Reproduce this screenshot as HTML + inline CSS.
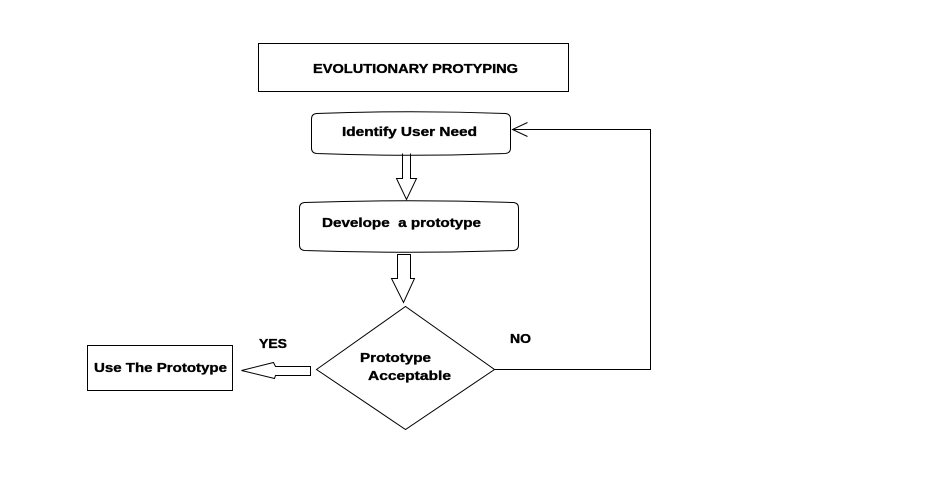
<!DOCTYPE html>
<html><head><style>
body{margin:0;background:#fff;}
svg{display:block}
text{font-family:"Liberation Sans",Arial,sans-serif;font-weight:bold;font-size:13px;fill:#000;stroke:#000;stroke-width:0.35}
</style></head><body>
<svg width="935" height="482" viewBox="0 0 935 482">
<g fill="none" stroke="#000" stroke-width="1">
<rect x="258.5" y="43.5" width="310" height="48"/>
<path d="M316.5,113.5 Q411,110 505.5,113.5 Q510.5,114 510.5,119 L510.5,148 Q510.5,153 505.5,153.5 Q411,157 316.5,153.5 Q311.5,153 311.5,148 L311.5,119 Q311.5,114 316.5,113.5Z"/>
<path d="M304.5,202.5 Q409,199 513.5,202.5 Q518.5,203 518.5,208 L518.5,245 Q518.5,250 513.5,250.5 Q409,254 304.5,250.5 Q299.5,250 299.5,245 L299.5,208 Q299.5,203 304.5,202.5Z"/>
<path d="M402.5,153.5 L402.5,178.5 L396.5,178.5 L406.5,199.5 L416.5,178.5 L410.5,178.5 L410.5,153.5"/>
<path d="M397.5,254.5 L410.5,254.5 L410.5,278.5 L414.5,278.5 L403.5,302.5 L391.5,278.5 L397.5,278.5Z"/>
<path d="M316.5,369.5 L405.5,306.5 L494.5,369.5 L405.5,429.5Z"/>
<rect x="87.5" y="345.5" width="145" height="45"/>
<path d="M310.5,366.5 L275.5,366.5 L273.5,362.5 L241.5,370.5 L274.5,378.5 L275.5,375.5 L310.5,375.5Z"/>
<path d="M494.5,369.5 L650.5,369.5 L650.5,129.5 L512.5,129.5"/>
<path d="M527.5,122.5 L512.5,129.5 L527.5,136.5"/>
</g>
<text x="313" y="73" textLength="205" lengthAdjust="spacingAndGlyphs">EVOLUTIONARY PROTYPING</text>
<text x="342" y="136" textLength="135" lengthAdjust="spacingAndGlyphs">Identify User Need</text>
<text x="322" y="227" textLength="159" lengthAdjust="spacingAndGlyphs" xml:space="preserve">Develope  a prototype</text>
<text x="360" y="362" textLength="71" lengthAdjust="spacingAndGlyphs">Prototype</text>
<text x="368" y="380" textLength="83" lengthAdjust="spacingAndGlyphs">Acceptable</text>
<text x="94" y="372" textLength="133" lengthAdjust="spacingAndGlyphs">Use The Prototype</text>
<text x="259" y="348" textLength="28" lengthAdjust="spacingAndGlyphs">YES</text>
<text x="510" y="343" textLength="21" lengthAdjust="spacingAndGlyphs">NO</text>
</svg>
</body></html>
